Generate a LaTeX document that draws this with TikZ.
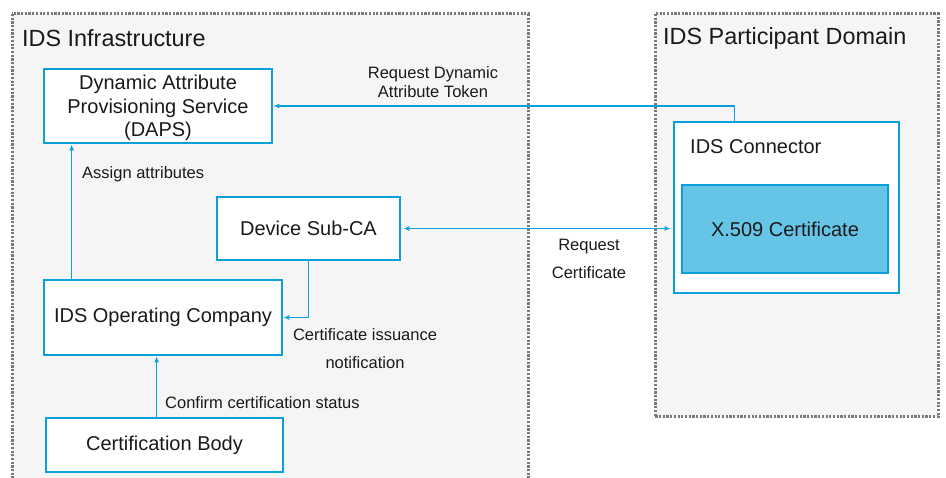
\documentclass[tikz,border=0pt]{standalone}
\usepackage{fontspec}
\setmainfont{Liberation Sans}
\usetikzlibrary{arrows.meta,calc}
\definecolor{idsblue}{HTML}{0AA0DA}
\definecolor{certfill}{HTML}{66C4E6}
\definecolor{contfill}{HTML}{F5F5F5}
\definecolor{contline}{HTML}{7A7A7A}
\definecolor{txt}{HTML}{1A1A1A}
\tikzset{
  container/.style={draw=contline, fill=contfill, line width=3pt, dash pattern=on 2.2pt off 1.5pt},
  box/.style={draw=idsblue, fill=white, line width=2.8pt, rectangle, inner sep=0pt, align=center, text=txt, font=\fontsize{20}{23.5}\selectfont},
  certbox/.style={box, fill=certfill},
  title/.style={anchor=west, text=txt, inner sep=0pt, font=\fontsize{23.4}{27}\selectfont},
  lbl/.style={text=txt, inner sep=0pt, align=center, font=\fontsize{16.5}{19}\selectfont},
  arr/.style={draw=idsblue, line width=1.3pt, -{Latex[length=6pt,width=5pt]}},
  darr/.style={draw=idsblue, line width=1.3pt, {Latex[length=6pt,width=5pt]}-{Latex[length=6pt,width=5pt]}, shorten <=2pt, shorten >=2pt}
}
\begin{document}
\begin{tikzpicture}[x=1pt,y=-1pt]
\useasboundingbox (0,0) rectangle (946,478);
\fill[white] (0,0) rectangle (946,478);
\clip (0,0) rectangle (946,478);
% containers
\draw[container] (12,14) rectangle (528,510);
\draw[container] (655,14) rectangle (938,417);
\node[title] (tinfra) at (22,38) {IDS Infrastructure};
\node[title] (tpart) at (663,38) {IDS Participant Domain};
% boxes
\node[box, minimum width=228pt, minimum height=74pt] (daps) at (158,106) {};
\node[text=txt, align=center, inner sep=0pt, font=\fontsize{20}{23.5}\selectfont] (dapstext) at (158,108) {Dynamic Attribute\\Provisioning Service\\(DAPS)};
\node[box, minimum width=183pt, minimum height=63pt] (subca) at (308.5,228.5) {Device Sub-CA};
\node[box, minimum width=238pt, minimum height=75pt] (opco) at (163,317.5) {IDS Operating Company};
\node[box, minimum width=237pt, minimum height=54pt] (cb) at (164.5,445) {Certification Body};
\node[box, minimum width=225pt, minimum height=171pt] (conn) at (786.5,207.5) {};
\node[title, font=\fontsize{20}{23.5}\selectfont] (connlbl) at (690,147) {IDS Connector};
\node[certbox, minimum width=206pt, minimum height=88pt] (x509) at (785,229) {X.509 Certificate};
% connectors
\coordinate (ctop) at ([xshift=62pt]conn.north west);
\draw[arr] (ctop) |- (daps.east);
\coordinate (otop) at ([xshift=29pt]opco.north west);
\draw[arr] (otop) -- (otop |- daps.south);
\draw[arr] (subca.south) |- (opco.east);
\coordinate (cbtop) at ([xshift=112pt]cb.north west);
\draw[arr] (cbtop) -- (cbtop |- opco.south);
\draw[darr] (subca.east) -- (subca.east -| conn.west);
% labels
\node[lbl] (l1) at (433,82) {Request Dynamic\\Attribute Token};
\node[lbl, anchor=west] (l2) at (82,174) {Assign attributes};
\node[lbl, font=\fontsize{16.5}{28}\selectfont] (l3) at (589,259) {Request\\Certificate};
\node[lbl, font=\fontsize{16.5}{28}\selectfont] (l4) at (365,349) {Certificate issuance\\notification};
\node[lbl, anchor=west] (l5) at (165,403) {Confirm certification status};
\end{tikzpicture}
\end{document}
